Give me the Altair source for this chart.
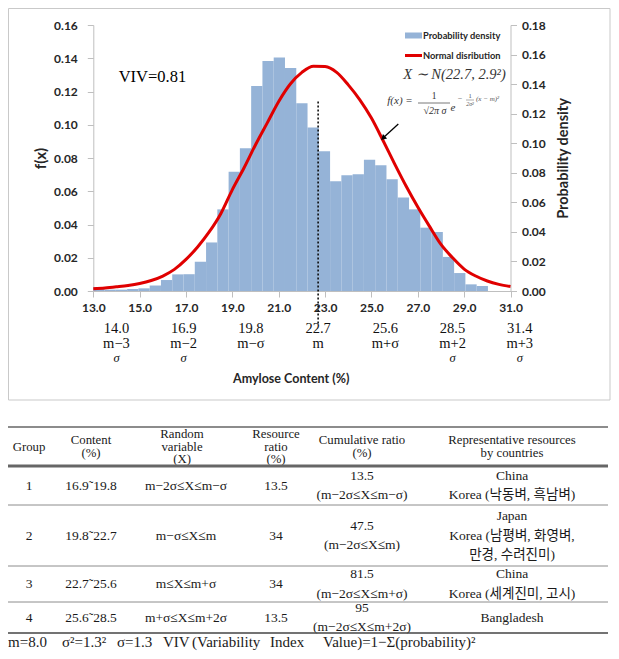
import altair as alt
import pandas as pd

# ---------------- data ----------------
bar_density = [0.0024, 0.0008, 0.0008, 0.0012, 0.0016, 0.0033, 0.0066, 0.0100, 0.0101, 0.0176,
               0.0292, 0.0491, 0.0718, 0.0858, 0.1233, 0.1383, 0.1405, 0.1341, 0.1130, 0.0983,
               0.0840, 0.0660, 0.0696, 0.0702, 0.0790, 0.0756, 0.0672, 0.0562, 0.0491, 0.0381,
               0.0355, 0.0205, 0.0108, 0.0040, 0.0030]
n_categories = 37          # histogram category slots spread over the 13–31 axis
axis_min, axis_max = 13.0, 31.0

curve_x = [13.0, 13.5, 14.0, 14.5, 15.0, 15.5, 16.0, 16.5, 17.0, 17.5, 18.0, 18.5, 19.0,
           19.5, 20.0, 20.5, 21.0, 21.5, 22.0, 22.5, 23.0, 23.5, 24.0, 24.5, 25.0, 25.5,
           26.0, 26.5, 27.0, 27.5, 28.0, 28.5, 29.0, 29.5, 30.0, 30.5, 31.0]
curve_f = [0.0013, 0.0018, 0.0025, 0.0033, 0.0045, 0.0063, 0.0090, 0.0130, 0.0190, 0.0265,
           0.0355, 0.0465, 0.0610, 0.0740, 0.0880, 0.1010, 0.1140, 0.1245, 0.1315, 0.1352,
           0.1350, 0.1315, 0.1240, 0.1150, 0.1040, 0.0905, 0.0765, 0.0630, 0.0505, 0.0390,
           0.0280, 0.0200, 0.0132, 0.0090, 0.0060, 0.0040, 0.0027]

x_ticks = [13.0, 15.0, 17.0, 19.0, 21.0, 23.0, 25.0, 27.0, 29.0, 31.0]
left_ticks = [0.00, 0.02, 0.04, 0.06, 0.08, 0.10, 0.12, 0.14, 0.16]
right_ticks = [0.00, 0.02, 0.04, 0.06, 0.08, 0.10, 0.12, 0.14, 0.16, 0.18]

sigma_values = [14.0, 16.9, 19.8, 22.7, 25.6, 28.5, 31.4]
sigma_names = ["m−3", "m−2", "m−σ", "m", "m+σ", "m+2", "m+3"]
sigma_tail = ["σ", "σ", "", "", "", "σ", "σ"]

mean_value = 22.7
mean_line_top = 0.114
viv_label = "VIV=0.81"
dist_label = "X ∼ N(22.7, 2.9²)"
legend_bar = "Probability density"
legend_line = "Normal disribution"

table_header = [["Group"], ["Content", "(%)"], ["Random", "variable", "(X)"],
                ["Resource", "ratio", "(%)"], ["Cumulative ratio", "(%)"],
                ["Representative resources", "by countries"]]
groups = ["1", "2", "3", "4"]
content = ["16.9˜19.8", "19.8˜22.7", "22.7˜25.6", "25.6˜28.5"]
random_var = ["m−2σ≤X≤m−σ", "m−σ≤X≤m", "m≤X≤m+σ", "m+σ≤X≤m+2σ"]
resource_ratio = ["13.5", "34", "34", "13.5"]
cumulative = ["13.5", "47.5", "81.5", "95"]
cumulative_range = ["(m−2σ≤X≤m−σ)", "(m−2σ≤X≤m)", "(m−2σ≤X≤m+σ)", "(m−2σ≤X≤m+2σ)"]
representative = [["China", "Korea (낙동벼, 흑남벼)"],
                  ["Japan", "Korea (남평벼, 화영벼,", "만경, 수려진미)"],
                  ["China", "Korea (세계진미, 고시)"],
                  ["Bangladesh"]]
footer_parts = ["m=8.0", "σ²=1.3²", "σ=1.3", "VIV", "(Variability", "Index",
                "Value)=1−Σ(probability)²"]

# ---------------- layout / style ----------------
W, H = 603, 643
SANS = "Lato"
SERIF = "Liberation Serif, Noto Sans CJK KR"
BAR = "#95b3d7"
RED = "#e00000"
GRID = "#bfbfbf"
TXT = "#262626"
X_RANGE = [85.3, 502.5]
Y_RANGE = [283, 17]


def xs():
    return alt.Scale(domain=[axis_min, axis_max], range=X_RANGE, nice=False, zero=False)


def ys():
    return alt.Scale(domain=[0, 0.16], range=Y_RANGE, nice=False, zero=False)


one = pd.DataFrame({"a": [0]})


def X(field):
    return alt.X(field, type="quantitative", scale=xs(), axis=None)


def Y(field):
    return alt.Y(field, type="quantitative", scale=ys(), axis=None)


# ---------------- chart area ----------------
width_cat = (axis_max - axis_min) / n_categories
bars_df = pd.DataFrame({
    "x0": [axis_min + i * width_cat for i in range(len(bar_density))],
    "x1": [axis_min + (i + 1) * width_cat for i in range(len(bar_density))],
    "f": bar_density,
    "base": [0.0] * len(bar_density),
})
bars = alt.Chart(bars_df).mark_rect(color=BAR).encode(
    x=X("x0"), x2="x1", y=Y("f"), y2="base")

curve = alt.Chart(pd.DataFrame({"x0": curve_x, "f": curve_f})).mark_line(
    color=RED, strokeWidth=3, interpolate="monotone").encode(x=X("x0"), y=Y("f"))

mean_df = pd.DataFrame({"x0": [mean_value], "f": [mean_line_top], "f2": [-0.0195]})
mean_line = alt.Chart(mean_df).mark_rule(color="#000", strokeWidth=1.5, strokeDash=[2, 2]).encode(
    x=X("x0"), y=Y("f"), y2="f2")

viv = alt.Chart(pd.DataFrame({"x0": [15.55], "f": [0.1287]})).mark_text(
    text=viv_label, font=SERIF, fontSize=16.5, color="#000").encode(x=X("x0"), y=Y("f"))

arrow_df = pd.DataFrame({"x0": [26.16], "x1": [25.57], "f": [0.1005], "f2": [0.0929]})
arrow = alt.Chart(arrow_df).mark_rule(color="#000", strokeWidth=1.3).encode(
    x=X("x0"), x2="x1", y=Y("f"), y2="f2")
arrow_head = alt.Chart(pd.DataFrame({"x0": [25.53], "f": [0.0923]})).mark_point(
    shape="triangle", filled=True, color="#000", size=38, angle=227, opacity=1).encode(
    x=X("x0"), y=Y("f"))

sig_df = pd.DataFrame({"x0": sigma_values, "n": sigma_names, "t": sigma_tail,
                       "l": [f"{v:.1f}" for v in sigma_values]})
sig1 = alt.Chart(sig_df).mark_text(font=SERIF, fontSize=14.5, color="#111").encode(
    x=X("x0"), y=alt.value(321), text="l:N")
sig2 = alt.Chart(sig_df).mark_text(font=SERIF, fontSize=14.5, color="#111").encode(
    x=X("x0"), y=alt.value(335.5), text="n:N")
sig3 = alt.Chart(sig_df).mark_text(font=SERIF, fontSize=12.5, fontStyle="italic", color="#111").encode(
    x=X("x0"), y=alt.value(350), text="t:N")


def label(text, x, y, size, font=SERIF, style="normal", weight="normal", align="center",
          color="#000", baseline="middle"):
    return alt.Chart(one).mark_text(text=text, font=font, fontSize=size, fontStyle=style,
                                    fontWeight=weight, align=align, baseline=baseline,
                                    color=color).encode(x=alt.value(x), y=alt.value(y))


def hline(x1, x2, y, color, width):
    return alt.Chart(one).mark_rule(color=color, strokeWidth=width).encode(
        x=alt.value(x1), x2=alt.value(x2), y=alt.value(y))


frame = alt.Chart(one).mark_rect(fillOpacity=0, stroke="#c9c9c9", strokeWidth=1).encode(
    x=alt.value(0.5), x2=alt.value(602), y=alt.value(0.5), y2=alt.value(392))

legend_rect = alt.Chart(one).mark_rect(color=BAR).encode(
    x=alt.value(397), x2=alt.value(414), y=alt.value(24.5), y2=alt.value(30.5))
legend_red = hline(397, 414, 47.5, RED, 3)
legend_t1 = label(legend_bar, 415, 27.5, 9.3, font=SANS, weight="bold", align="left", color=TXT)
legend_t2 = label(legend_line, 415, 47.5, 9.3, font=SANS, weight="bold", align="left", color=TXT)

dist = label(dist_label, 446.5, 66.7, 14.5, style="italic", color="#333")
f1 = label("f(x) =", 392, 93, 11, style="italic", color="#333")
f2 = label("1", 426, 88, 9.5, color="#333")
f3 = hline(410, 442, 95, "#555", 0.8)
f4 = label("√2π σ", 427, 102.5, 10, style="italic", color="#333")
f5 = label("e", 445, 100, 11, style="italic", color="#333")
f6 = label("−", 452, 91, 8, color="#555")
f7 = label("1", 462, 88, 6.5, color="#555")
f8 = hline(458, 466, 92, "#777", 0.6)
f9 = label("2σ²", 462, 95.5, 6, style="italic", color="#555")
f10 = label("(x − m)²", 468, 91, 7, style="italic", align="left", color="#555")

# ---------------- table ----------------
col_center = [21, 83, 174, 268, 354, 504]
row_bounds = [419, 458, 497, 558, 594, 625]
header_gap, body_gap = 12.5, 19.5

head_cells, body_cells = [], []
for c, lines in enumerate(table_header):
    mid = (row_bounds[0] + row_bounds[1]) / 2
    for i, t in enumerate(lines):
        head_cells.append({"px": col_center[c], "py": mid + (i - (len(lines) - 1) / 2) * header_gap, "t": t})
for r in range(len(groups)):
    mid = (row_bounds[r + 1] + row_bounds[r + 2]) / 2
    row = [[groups[r]], [content[r]], [random_var[r]], [resource_ratio[r]],
           [cumulative[r], cumulative_range[r]], representative[r]]
    for c, lines in enumerate(row):
        for i, t in enumerate(lines):
            body_cells.append({"px": col_center[c] + (4 if c == 2 else 0),
                               "py": mid + (i - (len(lines) - 1) / 2) * body_gap, "t": t})
head_text = alt.Chart(pd.DataFrame(head_cells)).mark_text(
    font=SERIF, fontSize=12.8, color="#1a1a1a", baseline="middle").encode(
    x=alt.X("px:Q", scale=None), y=alt.Y("py:Q", scale=None), text="t:N")
body_text = alt.Chart(pd.DataFrame(body_cells)).mark_text(
    font=SERIF, fontSize=13.5, color="#1a1a1a", baseline="middle").encode(
    x=alt.X("px:Q", scale=None), y=alt.Y("py:Q", scale=None), text="t:N")

table_lines = [
    hline(0, 600, row_bounds[0], "#666", 1.3),
    hline(0, 600, row_bounds[1], "#666", 3),
    hline(0, 600, row_bounds[2], "#8c8c8c", 1),
    hline(0, 600, row_bounds[3], "#8c8c8c", 1),
    hline(0, 600, row_bounds[4], "#8c8c8c", 1),
    hline(0, 600, row_bounds[5], "#444", 1.3),
]
footer_x = [0, 54, 109, 155, 184, 262, 315]
footer = [label(t, x, 639, 15, align="left", color="#1a1a1a", baseline="alphabetic")
          for t, x in zip(footer_parts, footer_x)]

main = alt.layer(frame, bars, curve, mean_line, viv, arrow, arrow_head, sig1, sig2, sig3,
                 legend_rect, legend_red, legend_t1, legend_t2, dist,
                 f1, f2, f3, f4, f5, f6, f7, f8, f9, f10,
                 head_text, body_text, *table_lines, *footer)

# ---------------- axes (dedicated invisible layers) ----------------
x_axis = alt.Axis(orient="bottom", offset=Y_RANGE[0] - H, values=x_ticks, format=".1f",
                  labelFont=SANS, labelFontWeight="bold", labelFontSize=12, labelColor=TXT,
                  labelPadding=5, labelFlush=False, labelOverlap=False, tickSize=6,
                  tickColor=GRID, domainColor=GRID, grid=False,
                  title="Amylose Content (%)", titleFont=SANS, titleFontWeight="bold",
                  titleFontSize=12.5, titleColor=TXT, titleX=282.7, titleY=87,
                  titleAlign="center", titleBaseline="middle")
y_axis = alt.Axis(orient="left", offset=-X_RANGE[0], values=left_ticks, format=".2f",
                  labelFont=SANS, labelFontWeight="bold", labelFontSize=12, labelColor=TXT,
                  labelPadding=10, tickSize=6, tickColor=GRID, domainColor=GRID, grid=False,
                  title="f(x)", titleFont=SANS, titleFontWeight="bold", titleFontSize=15,
                  titleColor=TXT, titleAngle=270, titleX=32 - X_RANGE[0], titleY=150,
                  titleAlign="center", titleBaseline="middle")
y_axis_r = alt.Axis(orient="right", offset=X_RANGE[1] - W, values=right_ticks, format=".2f",
                    labelFont=SANS, labelFontWeight="bold", labelFontSize=12, labelColor=TXT,
                    labelPadding=5, tickSize=6, tickColor=GRID, domainColor=GRID, grid=False,
                    title="Probability density", titleFont=SANS, titleFontWeight="bold",
                    titleFontSize=14.5, titleColor=TXT, titleAngle=270,
                    titleX=555 - X_RANGE[1], titleY=150, titleAlign="center",
                    titleBaseline="middle")

x_axis_layer = alt.Chart(pd.DataFrame({"v": [axis_min, axis_max]})).mark_point(opacity=0).encode(
    x=alt.X("v:Q", scale=xs(), axis=x_axis))
y_axis_layer = alt.Chart(pd.DataFrame({"v": [0.0, 0.16]})).mark_point(opacity=0).encode(
    y=alt.Y("v:Q", scale=ys(), axis=y_axis))
y_axis_r_layer = alt.Chart(pd.DataFrame({"v": [0.0, 0.18]})).mark_point(opacity=0).encode(
    y=alt.Y("v:Q", scale=alt.Scale(domain=[0, 0.18], range=Y_RANGE, nice=False, zero=False),
            axis=y_axis_r))

chart = alt.layer(main, x_axis_layer, y_axis_layer, y_axis_r_layer).resolve_scale(
    x="independent", y="independent").properties(
    width=W, height=H, padding=0, autosize=alt.AutoSizeParams(type="none"),
    background="white").configure_view(stroke=None)

chart.save("out.html", embed_options={"renderer": "svg", "actions": False})
